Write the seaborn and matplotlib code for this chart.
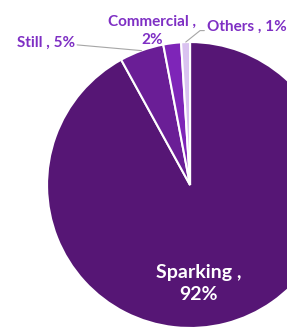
import matplotlib
matplotlib.use("Agg")
import matplotlib.pyplot as plt
import seaborn as sns

# share of each category
categories = ["Sparking", "Still", "Commercial", "Others"]
shares = [92, 5, 2, 1]
slice_colors = ["#561675", "#6a1e96", "#7e25b8", "#d9c2f0"]

sns.set_theme(style="white")
plt.rcParams["font.family"] = ["Lato", "DejaVu Sans"]

fig = plt.figure(figsize=(2.87, 3.28), dpi=100)
ax = fig.add_axes([0, 0, 1, 1])

ax.pie(shares, colors=slice_colors, startangle=90, counterclock=False,
       wedgeprops=dict(edgecolor="white", linewidth=1.5))

ax.set_xlim(-1.329, 0.678)
ax.set_ylim(-1.0, 1.294)
ax.set_aspect("auto")
ax.axis("off")

label_color = "#7e2fc4"
line_color = "#a6a6a6"

ax.text(0.06, -0.69, f"{categories[0]} ,\n{shares[0]}%", color="white",
        fontsize=14, fontweight="bold", ha="center", va="center", linespacing=1.35)

ax.text(-1.21, 0.995, f"{categories[1]} , {shares[1]}%", color=label_color,
        fontsize=11, fontweight="bold", ha="left", va="center")
ax.plot([-0.79, -0.34], [0.98, 0.94], color=line_color, lw=0.8)

ax.text(-0.266, 1.08, f"{categories[2]} ,\n{shares[2]}%", color=label_color,
        fontsize=11, fontweight="bold", ha="center", va="center", linespacing=1.4)

ax.text(0.12, 1.105, f"{categories[3]} , {shares[3]}%", color=label_color,
        fontsize=11, fontweight="bold", ha="left", va="center")
ax.plot([-0.03, 0.07, 0.10], [1.0, 1.08, 1.08], color=line_color, lw=0.8)

fig.savefig("out.png", dpi=100)
plt.close(fig)
